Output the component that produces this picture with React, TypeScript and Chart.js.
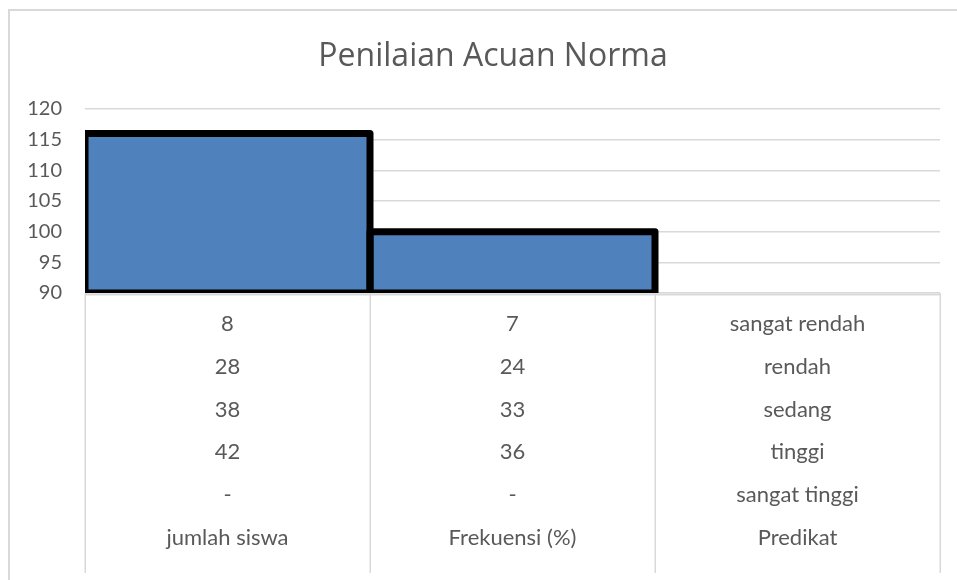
import React, { useEffect, useRef } from "react";
import { Chart, registerables } from "chart.js";

Chart.register(...registerables);

const chartTitle = "Penilaian Acuan Norma";
const categories = ["jumlah siswa", "Frekuensi (%)", "Predikat"];
const predikat = ["sangat rendah", "rendah", "sedang", "tinggi", "sangat tinggi"];
const jumlahSiswa: (number | null)[] = [8, 28, 38, 42, null];
const frekuensi: (number | null)[] = [7, 24, 33, 36, null];
const yMin = 90;
const yMax = 120;
const yStep = 5;

const FONT = "Lato, 'Open Sans', sans-serif";
const TITLE_FONT = "'Open Sans', Lato, sans-serif";
const TEXT = "#595959";
const GRID = "#d9d9d9";
const BAR = "#4F81BD";

const framePlugin = {
  id: "frame",
  beforeDraw(chart: any) {
    const { ctx, width, height } = chart;
    ctx.save();
    ctx.fillStyle = "#ffffff";
    ctx.fillRect(0, 0, width, height);
    ctx.strokeStyle = GRID;
    ctx.lineWidth = 2;
    ctx.strokeRect(9, 10, width + 20, height + 20);
    // chart title, centred on the chart frame
    ctx.fillStyle = TEXT;
    ctx.font = `32px ${TITLE_FONT}`;
    ctx.textAlign = "center";
    ctx.textBaseline = "alphabetic";
    ctx.fillText(chartTitle, (9 + width + 20) / 2, 66);
    ctx.restore();
  },
};

const outlinePlugin = {
  id: "outline",
  afterDatasetsDraw(chart: any) {
    const { ctx, chartArea: a } = chart;
    ctx.save();
    ctx.beginPath();
    ctx.rect(a.left, a.top, a.right - a.left, a.bottom - a.top);
    ctx.clip();
    ctx.strokeStyle = "#000000";
    ctx.lineWidth = 7;
    ctx.lineJoin = "round";
    chart.data.datasets.forEach((ds: any, i: number) => {
      const meta = chart.getDatasetMeta(i);
      meta.data.forEach((el: any, j: number) => {
        const v = ds.data[j];
        if (v == null) return;
        const p = el.getProps(["x", "y", "base", "width"], true);
        const top = Math.min(p.y, p.base);
        const bottom = Math.min(Math.max(p.y, p.base), a.bottom);
        if (!isFinite(top) || top >= a.bottom) return;
        ctx.strokeRect(p.x - p.width / 2, top, p.width, bottom - top);
      });
    });
    ctx.restore();
  },
};

const tablePlugin = {
  id: "dataTable",
  afterDraw(chart: any) {
    const { ctx, chartArea: a } = chart;
    const n = categories.length;
    const colW = (a.right - a.left) / n;
    const rowH = 42.8;
    const firstRow = a.bottom + 31;
    const tableBottom = a.bottom + 280;
    ctx.save();
    ctx.strokeStyle = GRID;
    ctx.lineWidth = 1.5;
    for (let i = 0; i <= n; i++) {
      const x = Math.round(a.left + i * colW) + 0.25;
      ctx.beginPath();
      ctx.moveTo(x, a.bottom);
      ctx.lineTo(x, tableBottom);
      ctx.stroke();
    }
    ctx.lineWidth = 2;
    ctx.beginPath();
    ctx.moveTo(a.left, a.bottom + 1.5);
    ctx.lineTo(a.right, a.bottom + 1.5);
    ctx.stroke();

    ctx.fillStyle = TEXT;
    ctx.font = `22px ${FONT}`;
    ctx.textAlign = "center";
    ctx.textBaseline = "middle";
    predikat.forEach((name, r) => {
      const y = firstRow + r * rowH;
      const cells = [
        jumlahSiswa[r] == null ? "-" : String(jumlahSiswa[r]),
        frekuensi[r] == null ? "-" : String(frekuensi[r]),
        name,
      ];
      cells.forEach((t, c) => {
        ctx.fillText(t, a.left + (c + 0.5) * colW, y);
      });
    });
    const catY = firstRow + predikat.length * rowH;
    categories.forEach((t, c) => {
      ctx.fillText(t, a.left + (c + 0.5) * colW, catY);
    });
    ctx.restore();
  },
};

export default function App() {
  const ref = useRef<HTMLCanvasElement | null>(null);
  useEffect(() => {
    if (!ref.current) return;
    const datasets = predikat.map((name, i) => ({
      label: name,
      data: [jumlahSiswa[i], frekuensi[i], null],
      backgroundColor: BAR,
      borderWidth: 0,
      categoryPercentage: 1,
      barPercentage: 1,
    }));
    const chart = new Chart(ref.current, {
      type: "bar",
      data: { labels: categories, datasets },
      options: {
        animation: false,
        responsive: false,
        maintainAspectRatio: false,
        layout: { padding: { left: 0, right: 17, top: 109, bottom: 287 } },
        plugins: {
          legend: { display: false },
          tooltip: { enabled: false },
          title: { display: false },
        },
        scales: {
          x: { display: false, stacked: true },
          y: {
            stacked: true,
            min: yMin,
            max: yMax,
            afterFit(scale: any) {
              scale.width = 85;
            },
            ticks: {
              stepSize: yStep,
              color: TEXT,
              padding: 23,
              font: { family: FONT, size: 20 },
            },
            grid: { color: GRID, lineWidth: 1.5, drawTicks: false },
            border: { display: false },
          },
        },
      },
      plugins: [framePlugin, outlinePlugin, tablePlugin],
    });
    return () => chart.destroy();
  }, []);
  return (
    <div style={{ position: "absolute", left: 0, top: 0, width: 957, height: 580 }}>
      <canvas ref={ref} width={957} height={580} style={{ display: "block" }} />
    </div>
  );
}
